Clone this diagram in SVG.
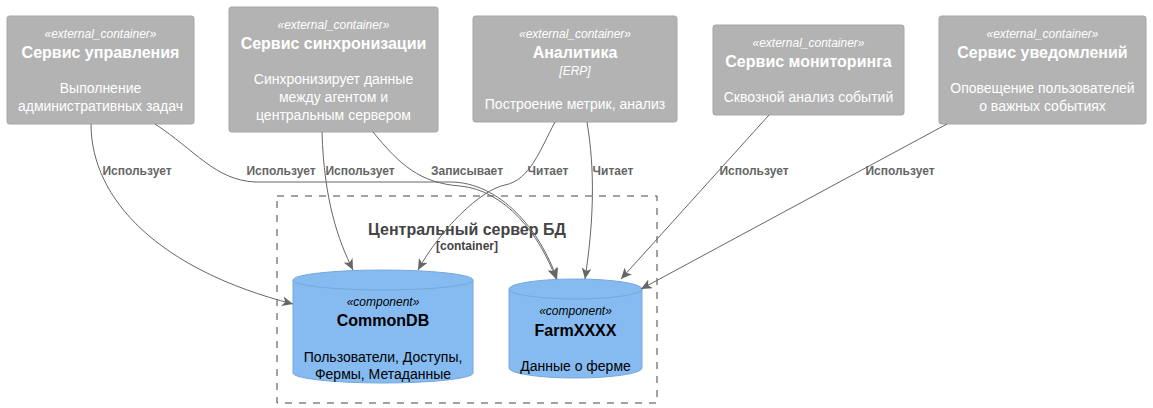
<svg xmlns="http://www.w3.org/2000/svg" width="1153" height="408" viewBox="0 0 1153 408">
<style>
.ext{fill:#B3B3B3;stroke:#A6A6A6;stroke-width:1}
.db{fill:#85BBF0;stroke:#78A8D8;stroke-width:1}
.st{font-family:"Liberation Sans",Arial,sans-serif;font-size:12px;font-style:italic;text-anchor:middle}
.tt{font-family:"Liberation Sans",Arial,sans-serif;font-size:16px;font-weight:bold;text-anchor:middle}
.ds{font-family:"Liberation Sans",Arial,sans-serif;font-size:14px;text-anchor:middle}
.w{fill:#FFFFFF}
.k{fill:#000000}
.lbl{font-family:"Liberation Sans",Arial,sans-serif;font-size:12px;font-weight:bold;fill:#666666;text-anchor:middle}
.cn{fill:none;stroke:#666666;stroke-width:1;marker-end:url(#ah)}
</style>
<defs>
<marker id="ah" viewBox="0 0 12 10" refX="11" refY="5" markerWidth="12" markerHeight="10" markerUnits="userSpaceOnUse" orient="auto">
<path d="M0,0 L11,5 L0,10 L3,5 Z" fill="#666666"/>
</marker>
</defs>
<rect width="1153" height="408" fill="#FFFFFF"/>

<g id="boundary">
<rect x="277" y="196" width="380" height="207" fill="none" stroke="#444444" stroke-width="1" stroke-dasharray="7,7"/>
<text x="467" y="235" font-family="Liberation Sans,Arial,sans-serif" font-size="16" font-weight="bold" fill="#444444" text-anchor="middle">Центральный сервер БД</text>
<text x="467" y="250" font-family="Liberation Sans,Arial,sans-serif" font-size="12" font-weight="bold" fill="#444444" text-anchor="middle">[container]</text>
</g>

<g id="node-mgmt">
<rect class="ext" x="7" y="16" width="187" height="108" rx="2.5"/>
<text class="st w" x="100.5" y="38">«external_container»</text>
<text class="tt w" x="100.5" y="58">Сервис управления</text>
<text class="ds w" x="100.5" y="93">Выполнение</text>
<text class="ds w" x="100.5" y="111">административных задач</text>
</g>

<g id="node-sync">
<rect class="ext" x="229" y="7" width="209" height="125" rx="2.5"/>
<text class="st w" x="333.5" y="29">«external_container»</text>
<text class="tt w" x="333.5" y="49">Сервис синхронизации</text>
<text class="ds w" x="333.5" y="84">Синхронизирует данные</text>
<text class="ds w" x="333.5" y="102">между агентом и</text>
<text class="ds w" x="333.5" y="120">центральным сервером</text>
</g>

<g id="node-analytics">
<rect class="ext" x="473" y="16" width="204" height="106" rx="2.5"/>
<text class="st w" x="575" y="38">«external_container»</text>
<text class="tt w" x="575" y="58">Аналитика</text>
<text class="st w" x="575" y="75">[ERP]</text>
<text class="ds w" x="575" y="109">Построение метрик, анализ</text>
</g>

<g id="node-monitoring">
<rect class="ext" x="713" y="25" width="191" height="90" rx="2.5"/>
<text class="st w" x="808.5" y="47">«external_container»</text>
<text class="tt w" x="808.5" y="67">Сервис мониторинга</text>
<text class="ds w" x="808.5" y="102">Сквозной анализ событий</text>
</g>

<g id="node-notify">
<rect class="ext" x="939" y="16" width="207" height="108" rx="2.5"/>
<text class="st w" x="1042.5" y="38">«external_container»</text>
<text class="tt w" x="1042.5" y="58">Сервис уведомлений</text>
<text class="ds w" x="1042.5" y="93">Оповещение пользователей</text>
<text class="ds w" x="1042.5" y="111">о важных событиях</text>
</g>

<g id="node-commondb">
<path class="db" d="M293,280 A90,10 0 0 1 473,280 L473,373 A90,10 0 0 1 293,373 Z"/>
<path d="M293,280 A90,10 0 0 0 473,280" fill="none" stroke="#78A8D8" stroke-width="1"/>
<text class="st k" x="383" y="306">«component»</text>
<text class="tt k" x="383" y="326">CommonDB</text>
<text class="ds k" x="383" y="362">Пользователи, Доступы,</text>
<text class="ds k" x="383" y="379">Фермы, Метаданные</text>
</g>

<g id="node-farm">
<path class="db" d="M509,289 A66.5,10 0 0 1 642,289 L642,368 A66.5,10 0 0 1 509,368 Z"/>
<path d="M509,289 A66.5,10 0 0 0 642,289" fill="none" stroke="#78A8D8" stroke-width="1"/>
<text class="st k" x="575.5" y="315">«component»</text>
<text class="tt k" x="575.5" y="336">FarmXXXX</text>
<text class="ds k" x="575.5" y="371">Данные о ферме</text>
</g>

<g id="connectors">
<path class="cn" d="M91,124 C91,200 160,270 293,304"/>
<path class="cn" d="M155,124 C195,150 215,180 255,182 L450,182 C500,182 540,230 557,279"/>
<path class="cn" d="M322,132 C324,200 338,240 353,270"/>
<path class="cn" d="M373,132 C400,165 420,183 460,186 C505,190 540,235 556,279"/>
<path class="cn" d="M555,122 C540,150 530,180 505,185 C480,190 440,230 418,270"/>
<path class="cn" d="M587,122 C595,170 594,220 585,279"/>
<path class="cn" d="M769,115 L621,279"/>
<path class="cn" d="M947,124 L641,289"/>
<text class="lbl" x="137" y="175">Использует</text>
<text class="lbl" x="281" y="175">Использует</text>
<text class="lbl" x="360" y="175">Использует</text>
<text class="lbl" x="467" y="175">Записывает</text>
<text class="lbl" x="548" y="175">Читает</text>
<text class="lbl" x="613" y="175">Читает</text>
<text class="lbl" x="754" y="175">Использует</text>
<text class="lbl" x="900" y="175">Использует</text>
</g>
</svg>
